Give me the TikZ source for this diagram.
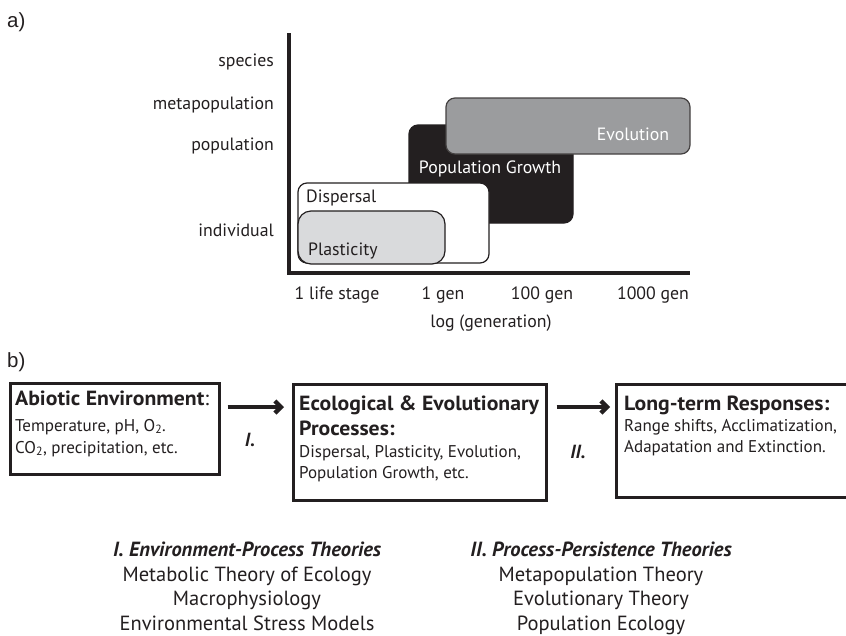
\documentclass[tikz,border=0pt]{standalone}
\usepackage{fontspec}
\setmainfont{PT Sans}
\newfontfamily\arialfont{Liberation Sans}
\newfontfamily\headfont{PT Sans}[FakeStretch=1.06]
\usetikzlibrary{arrows.meta}
\definecolor{ink}{HTML}{231F20}
\definecolor{evogray}{HTML}{9B9C9E}
\definecolor{plasgray}{HTML}{D9DADC}
\tikzset{
  lbl/.style={inner sep=0pt, text=ink, font=\fontsize{17.8}{20}\selectfont},
  ylbl/.style={lbl, anchor=east},
  xlbl/.style={lbl, anchor=center},
  panel/.style={inner sep=0pt, anchor=west, text=ink, font=\arialfont\fontsize{20.5}{24}\selectfont},
  chartbox/.style={inner sep=0pt, rounded corners=9pt, line width=1.2pt},
  flowbox/.style={draw=ink, line width=2.6pt, inner sep=0pt},
  boxhead/.style={inner sep=0pt, anchor=base west, text=ink, font=\headfont\bfseries\fontsize{20.5}{24}\selectfont},
  boxtxt/.style={inner sep=0pt, anchor=base west, text=ink, font=\fontsize{17}{20}\selectfont},
  roman/.style={inner sep=0pt, text=ink, font=\bfseries\itshape\fontsize{19}{22}\selectfont},
  bigarrow/.style={draw=ink, line width=4.4pt, -{Straight Barb[length=6pt,width=12pt]}},
  theory/.style={inner sep=0pt, anchor=base, text=ink, font=\fontsize{20.5}{24}\selectfont},
  theoryhead/.style={theory, font=\bfseries\itshape\fontsize{20.5}{24}\selectfont},
}
\begin{document}
\begin{tikzpicture}[x=1pt,y=-1pt]
\useasboundingbox (0,0) rectangle (846,635);
\clip (0,0) rectangle (846,635);
\fill[white] (0,0) rectangle (846,635);

% ---------- panel a ----------
\node[panel] (pa) at (7,22) {a)};

% boxes (drawn back to front)
\node[chartbox, fill=ink, draw=ink, minimum width=164pt, minimum height=98pt] (popbox) at (491,174) {};
\node[chartbox, fill=evogray, draw=ink!85, minimum width=244pt, minimum height=56pt] (evobox) at (568,126) {};
\node[chartbox, fill=white, draw=ink, minimum width=191pt, minimum height=80pt] (disbox) at (393.5,223) {};
\node[chartbox, fill=plasgray, draw=ink, rounded corners=13pt, minimum width=147pt, minimum height=53pt] (plabox) at (371.5,237.5) {};

\node[lbl, text=white, anchor=center] (evotxt) at (633,134) {Evolution};
\node[lbl, text=white, anchor=center] (poptxt) at (490,169) {Population Growth};
\node[lbl, anchor=west] (distxt) at (306,198) {Dispersal};
\node[lbl, anchor=west] (platxt) at (308,251) {Plasticity};

% axes
\coordinate (origin) at (289,273);
\coordinate (ytop) at (289,33);
\coordinate (xend) at (690,273);
\draw[ink, line width=4pt] (ytop) -- (origin) -- (xend);

\node[ylbl] (ysp) at (274,62) {species};
\node[ylbl] (ymeta) at (274,105) {metapopulation};
\node[ylbl] (ypop) at (274,146) {population};
\node[ylbl] (yind) at (274,230) {individual};

\node[xlbl] (x1) at (337,295) {1 life stage};
\node[xlbl] (x2) at (443,295) {1 gen};
\node[xlbl] (x3) at (542,295) {100 gen};
\node[xlbl] (x4) at (653,295) {1000 gen};
\node[xlbl] (xtitle) at (491,323) {log (generation)};

% ---------- panel b ----------
\node[panel] (pb) at (7,362) {b)};

\node[flowbox, anchor=north west, minimum width=209pt, minimum height=91pt] (box1) at (9,382) {};
\node[flowbox, anchor=north west, minimum width=253pt, minimum height=116pt] (box2) at (292,383) {};
\node[flowbox, anchor=north west, minimum width=260pt, minimum height=113pt] (box3) at (615,383) {};

\node[boxhead] (b1h) at (15,405) {Abiotic Environment\mdseries:};
\node[boxtxt] (b1l1) at (15,431) {Temperature, pH, O\textsubscript{2}.};
\node[boxtxt] (b1l2) at (15,453) {CO\textsubscript{2}, precipitation, etc.};

\node[boxhead] (b2h) at (299,410) {Ecological \& Evolutionary};
\node[boxhead] (b2h2) at (299,435) {Processes:};
\node[boxtxt] (b2l1) at (299,457) {Dispersal, Plasticity, Evolution,};
\node[boxtxt] (b2l2) at (299,478) {Population Growth, etc.};

\node[boxhead] (b3h) at (624,410) {Long-term Responses:};
\node[boxtxt] (b3l1) at (624,431) {Range shifts, Acclimatization,};
\node[boxtxt] (b3l2) at (624,452) {Adapatation and Extinction.};

\coordinate (arrowy) at (0,407);
\draw[bigarrow] ([xshift=7pt]box1.east |- arrowy) -- ([xshift=-8pt]box2.west |- arrowy);
\draw[bigarrow] ([xshift=9pt]box2.east |- arrowy) -- ([xshift=-5pt]box3.west |- arrowy);

\node[roman] (r1) at (250,440) {I.};
\node[roman] (r2) at (578,452) {II.};

% theories
\node[theoryhead] (th1) at (247,556) {I. Environment-Process Theories};
\node[theory] (th1a) at (247,581) {Metabolic Theory of Ecology};
\node[theory] (th1b) at (247,605) {Macrophysiology};
\node[theory] (th1c) at (247,630) {Environmental Stress Models};

\node[theoryhead] (th2) at (601,556) {II. Process-Persistence Theories};
\node[theory] (th2a) at (601,581) {Metapopulation Theory};
\node[theory] (th2b) at (601,605) {Evolutionary Theory};
\node[theory] (th2c) at (601,630) {Population Ecology};
\end{tikzpicture}
\end{document}
